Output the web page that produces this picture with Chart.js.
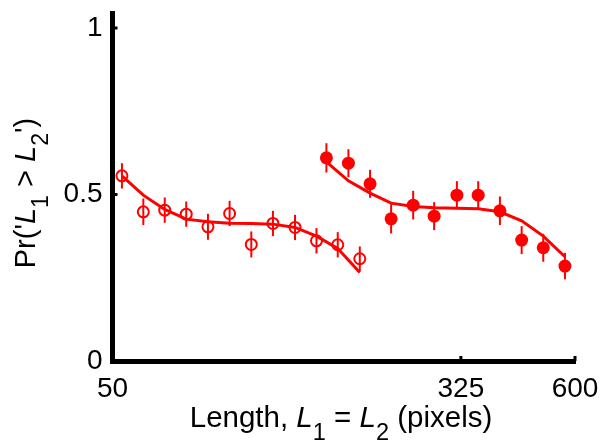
<!DOCTYPE html>
<html>
<head>
<meta charset="utf-8">
<title>Pr(L1 > L2)</title>
<style>
  body { margin: 0; background: #fff; }
  #wrap { width: 601px; height: 442px; }
</style>
</head>
<body>
<div id="wrap"><canvas id="chart" width="601" height="442"></canvas></div>
<script src="https://cdn.jsdelivr.net/npm/chart.js@4.4.1/dist/chart.umd.min.js"></script>
<script>
// short lengths (open circles)
var openX = [52.6, 59.0, 66.2, 74.3, 83.5, 93.8, 105.4, 118.4, 133.3, 149.6, 167.7, 188.8];
var openY = [0.556, 0.448, 0.453, 0.441, 0.403, 0.443, 0.350, 0.413, 0.401, 0.361, 0.349, 0.307];
var openErr = [0.038, 0.040, 0.038, 0.038, 0.039, 0.038, 0.039, 0.038, 0.038, 0.038, 0.038, 0.037];
var openFit = [0.556, 0.498, 0.455, 0.426, 0.418, 0.414, 0.413, 0.411, 0.401, 0.375, 0.338, 0.266];

// long lengths (filled circles)
var filledX = [157.8, 177.6, 199.5, 223.4, 251.5, 281.5, 318.1, 356.7, 400.8, 450.5, 505.9, 568.5];
var filledY = [0.610, 0.594, 0.532, 0.427, 0.468, 0.435, 0.498, 0.498, 0.451, 0.363, 0.340, 0.285];
var filledErr = [0.044, 0.042, 0.042, 0.044, 0.043, 0.042, 0.042, 0.042, 0.043, 0.042, 0.042, 0.040];
var filledFit = [0.598, 0.541, 0.504, 0.474, 0.464, 0.460, 0.459, 0.457, 0.448, 0.421, 0.375, 0.313];

var xTicks = [50, 325, 600];
var yTicks = [0, 0.5, 1];

var RED = '#ff0000';
var FONT = '"Liberation Sans", Arial, sans-serif';

function pts(xs, ys) {
    return xs.map(function (x, i) { return { x: x, y: ys[i] }; });
}

// error bars, drawn under the markers
var errorBars = {
    id: 'errorBars',
    beforeDatasetsDraw: function (chart) {
        var ctx = chart.ctx, xs = chart.scales.x, ys = chart.scales.y;
        ctx.save();
        ctx.strokeStyle = RED;
        ctx.lineWidth = 2;
        [[openX, openY, openErr], [filledX, filledY, filledErr]].forEach(function (s) {
            s[0].forEach(function (x, i) {
                var px = xs.getPixelForValue(x);
                ctx.beginPath();
                ctx.moveTo(px, ys.getPixelForValue(s[1][i] - s[2][i]));
                ctx.lineTo(px, ys.getPixelForValue(s[1][i] + s[2][i]));
                ctx.stroke();
            });
        });
        ctx.restore();
    }
};

// text pieces with italic / subscript parts, centred on cx, baseline y
function setFont(ctx, p, size) {
    ctx.font = (p.i ? 'italic ' : '') + (p.sub ? size * 0.8 : size) + 'px ' + FONT;
}
function drawRich(ctx, parts, size, cx, y) {
    var w = 0;
    parts.forEach(function (p) {
        setFont(ctx, p, size);
        p.w = ctx.measureText(p.t).width;
        w += p.w;
    });
    var x = cx - w / 2;
    ctx.textAlign = 'left';
    ctx.textBaseline = 'alphabetic';
    parts.forEach(function (p) {
        setFont(ctx, p, size);
        ctx.fillText(p.t, x, p.sub ? y + 13 : y);
        x += p.w;
    });
}

var titles = {
    id: 'titles',
    afterDraw: function (chart) {
        var ctx = chart.ctx, xs = chart.scales.x, ys = chart.scales.y;
        var a = chart.chartArea;
        ctx.save();
        ctx.fillStyle = '#000';
        // inward tick marks
        ctx.strokeStyle = '#000';
        ctx.lineWidth = 3;
        yTicks.forEach(function (v) {
            var py = ys.getPixelForValue(v);
            ctx.beginPath(); ctx.moveTo(a.left, py); ctx.lineTo(a.left + 5, py); ctx.stroke();
        });
        xTicks.forEach(function (v) {
            var px = xs.getPixelForValue(v);
            ctx.beginPath(); ctx.moveTo(px, a.bottom); ctx.lineTo(px, a.bottom - 5); ctx.stroke();
        });
        drawRich(ctx, [
            { t: 'Length, ' }, { t: 'L', i: true }, { t: '1', sub: true },
            { t: ' = ' }, { t: 'L', i: true }, { t: '2', sub: true }, { t: ' (pixels)' }
        ], 29.5, 341, 427);
        ctx.translate(35, 193);
        ctx.rotate(-Math.PI / 2);
        drawRich(ctx, [
            { t: "Pr('" }, { t: 'L', i: true }, { t: '1', sub: true },
            { t: ' > ' }, { t: 'L', i: true }, { t: '2', sub: true }, { t: "')" }
        ], 29, 0, 0);
        ctx.restore();
    }
};

new Chart(document.getElementById('chart'), {
    type: 'scatter',
    data: {
        datasets: [
            {
                type: 'line', data: pts(openX, openFit), borderColor: RED, borderWidth: 3,
                pointRadius: 0, fill: false, tension: 0
            },
            {
                type: 'line', data: pts(filledX, filledFit), borderColor: RED, borderWidth: 3,
                pointRadius: 0, fill: false, tension: 0
            },
            {
                data: pts(openX, openY), pointRadius: 5.5, pointBorderWidth: 2,
                borderColor: RED, backgroundColor: 'rgba(0,0,0,0)'
            },
            {
                data: pts(filledX, filledY), pointRadius: 6.5, pointBorderWidth: 0,
                borderColor: RED, backgroundColor: RED
            }
        ]
    },
    options: {
        responsive: false,
        animation: false,
        devicePixelRatio: 1,
        layout: { padding: { top: 13, right: 26, left: 0, bottom: 0 } },
        plugins: { legend: { display: false }, tooltip: { enabled: false } },
        scales: {
            x: {
                type: 'logarithmic', min: 50, max: 600,
                grid: { display: false, drawTicks: false },
                border: { display: true, width: 5, color: '#000' },
                ticks: {
                    padding: 11, color: '#000', maxRotation: 0, autoSkip: false,
                    font: { family: FONT, size: 28 },
                    callback: function (v) { return String(v); }
                },
                afterBuildTicks: function (s) { s.ticks = xTicks.map(function (v) { return { value: v }; }); },
                afterFit: function (s) {
                    s.height = 81;
                    s.paddingLeft = 0;
                    s.paddingRight = 0;
                }
            },
            y: {
                min: 0, max: 1.045,
                grid: { display: false, drawTicks: false },
                border: { display: true, width: 5, color: '#000' },
                ticks: {
                    padding: 10, color: '#000',
                    font: { family: FONT, size: 28 },
                    callback: function (v) { return String(v); }
                },
                afterBuildTicks: function (s) { s.ticks = yTicks.map(function (v) { return { value: v }; }); },
                afterFit: function (s) {
                    s.width = 112.5;
                    s.paddingTop = 0;
                    s.paddingBottom = 0;
                }
            }
        }
    },
    plugins: [errorBars, titles]
});
</script>
</body>
</html>
